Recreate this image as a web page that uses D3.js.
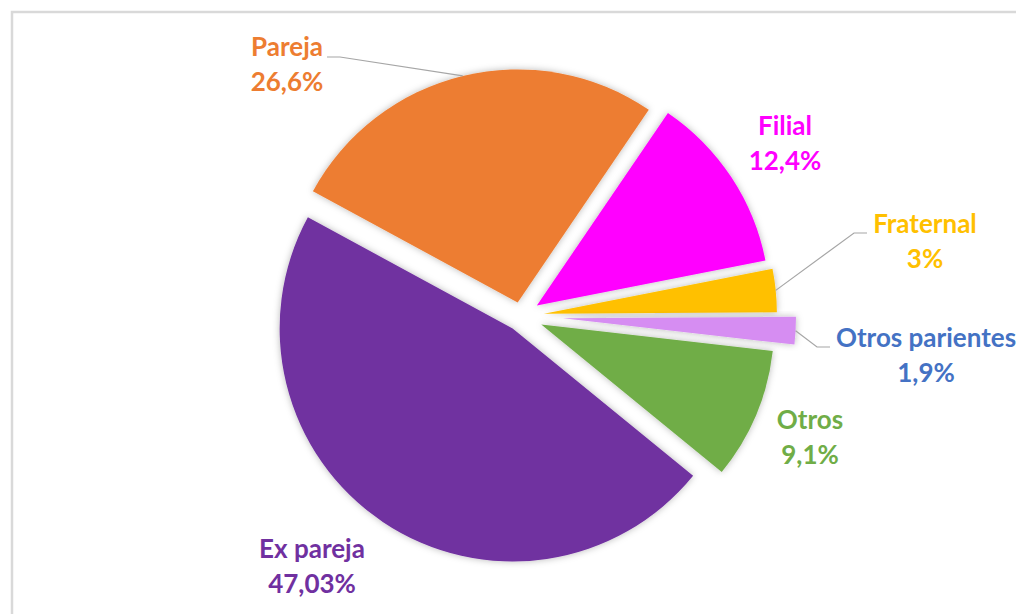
<!DOCTYPE html>
<html>
<head>
<meta charset="utf-8">
<script src="https://cdn.jsdelivr.net/npm/d3@7/dist/d3.min.js"></script>
<style>
  html, body { margin: 0; padding: 0; background: #fff; }
  svg { display: block; }
</style>
</head>
<body>
<svg id="chart" width="1016" height="614"></svg>
<script>
// ---- data ----
const categories = ["Pareja", "Filial", "Fraternal", "Otros parientes", "Otros", "Ex pareja"];
const values = [26.6, 12.4, 3, 1.9, 9.1, 47.03];
const valueLabels = ["26,6%", "12,4%", "3%", "1,9%", "9,1%", "47,03%"];

// ---- styles / layout ----
const sliceColors = ["#ED7D31", "#FF00FF", "#FFC000", "#D68DF2", "#70AD47", "#7030A0"];
const textColors  = ["#ED7D31", "#FF00FF", "#FFC000", "#4472C4", "#70AD47", "#7030A0"];
const explode     = [14, 19, 23, 42, 22, 15];
const labelPos    = [[287, 56], [785, 135], [925, 233], [926, 347], [810, 429], [312, 558]];
// leader: [elbowX, elbowY, endX] or null
const leaders     = [[340, 57, 327], null, [854, 233, 867], [817, 347, 830], null, null];

const W = 1016, H = 614;
const cx = 521, cy = 316, R = 233;
const lineGap = 35;

const svg = d3.select("#chart");

const defs = svg.append("defs");
const f = defs.append("filter").attr("id", "glow")
  .attr("x", "-20%").attr("y", "-20%").attr("width", "140%").attr("height", "140%");
f.append("feGaussianBlur").attr("in", "SourceAlpha").attr("stdDeviation", 3.5).attr("result", "b");
f.append("feFlood").attr("flood-color", "#000").attr("flood-opacity", 0.28).attr("result", "c");
f.append("feComposite").attr("in", "c").attr("in2", "b").attr("operator", "in").attr("result", "s");
const m = f.append("feMerge");
m.append("feMergeNode").attr("in", "s");
m.append("feMergeNode").attr("in", "SourceGraphic");

// frame
svg.append("rect").attr("x", 12).attr("y", 12).attr("width", W + 50).attr("height", H + 50)
  .attr("fill", "none").attr("stroke", "#D9D9D9").attr("stroke-width", 2.5);

const startA = -61.5 * Math.PI / 180;
const pie = d3.pie().sort(null).value(d => d)
  .startAngle(startA).endAngle(startA + 2 * Math.PI);
const arcs = pie(values);
const arcGen = d3.arc().innerRadius(0).outerRadius(R);

const g = svg.append("g").attr("transform", `translate(${cx},${cy})`);

function offset(a, i) {
  const mid = (a.startAngle + a.endAngle) / 2;
  return [Math.sin(mid) * explode[i], -Math.cos(mid) * explode[i]];
}

g.selectAll("path.slice").data(arcs).join("path")
  .attr("class", "slice")
  .attr("d", arcGen)
  .attr("fill", (d, i) => sliceColors[i])
  .attr("filter", "url(#glow)")
  .attr("transform", (d, i) => { const o = offset(d, i); return `translate(${o[0]},${o[1]})`; });

// leader lines
arcs.forEach((a, i) => {
  const L = leaders[i];
  if (!L) return;
  const mid = (a.startAngle + a.endAngle) / 2;
  const o = offset(a, i);
  const sx = cx + o[0] + Math.sin(mid) * R;
  const sy = cy + o[1] - Math.cos(mid) * R;
  svg.append("polyline")
    .attr("points", `${sx},${sy} ${L[0]},${L[1]} ${L[2]},${L[1]}`)
    .attr("fill", "none").attr("stroke", "#A6A6A6").attr("stroke-width", 1.2);
});

// labels
const labels = svg.append("g")
  .attr("font-family", "Lato, 'Open Sans', sans-serif")
  .attr("font-weight", 700)
  .attr("font-size", 26)
  .attr("text-anchor", "middle");

categories.forEach((c, i) => {
  const t = labels.append("text").attr("fill", textColors[i]);
  t.append("tspan").attr("x", labelPos[i][0]).attr("y", labelPos[i][1]).text(c);
  t.append("tspan").attr("x", labelPos[i][0]).attr("y", labelPos[i][1] + lineGap).text(valueLabels[i]);
});
</script>
</body>
</html>
